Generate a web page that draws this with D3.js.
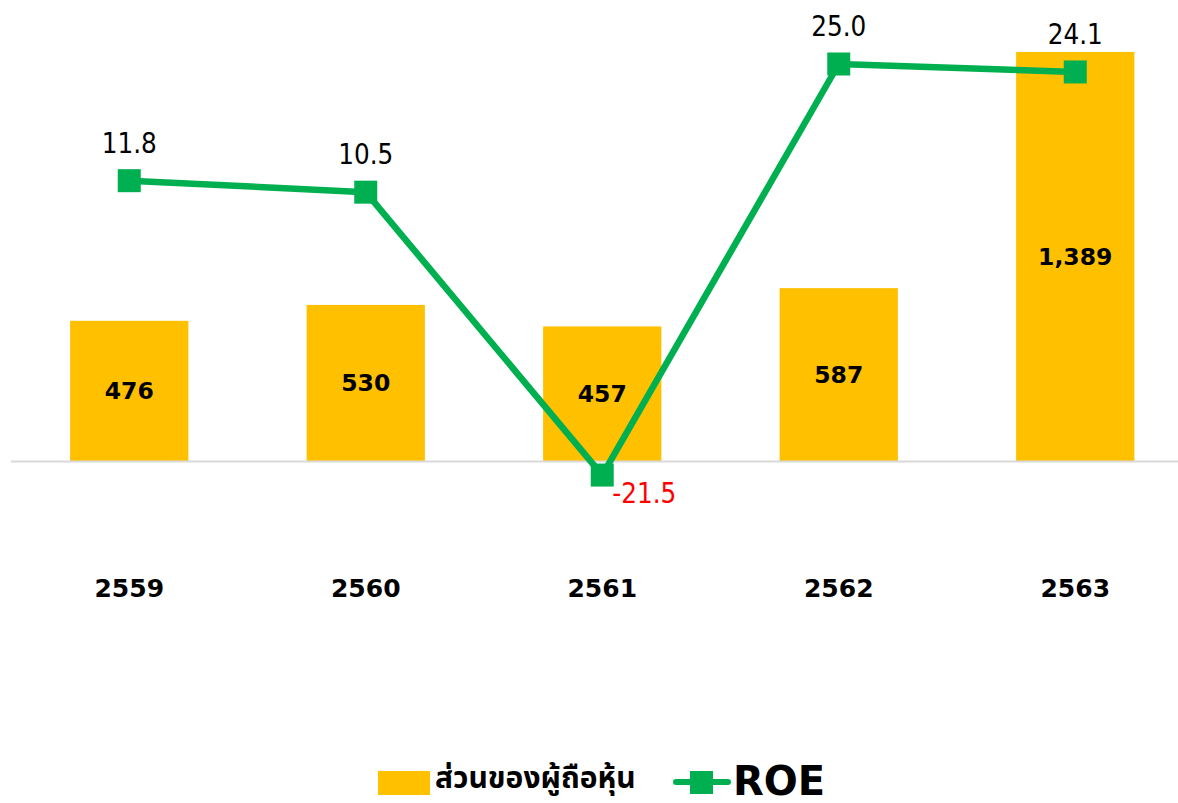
<!DOCTYPE html>
<html><head><meta charset="utf-8">
<script src="https://cdn.jsdelivr.net/npm/d3@7"></script>
<style>
body{margin:0;background:#fff;}
svg{display:block;}
</style></head>
<body>
<svg id="chart" width="1178" height="803"></svg>
<script>
const years = ["2559","2560","2561","2562","2563"];
const equity = [476, 530, 457, 587, 1389];
const roe = [11.8, 10.5, -21.5, 25.0, 24.1];
const equityLabels = ["476","530","457","587","1,389"];
const roeLabels = ["11.8","10.5","-21.5","25.0","24.1"];
const legendNames = ["ส่วนของผู้ถือหุ้น", "ROE"];

const svg = d3.select("#chart");
const x = d3.scaleBand().domain(years).range([11, 1193.5]).paddingInner(0.5).paddingOuter(0.25);
const yBar = d3.scaleLinear().domain([0, 1400]).range([461, 461 - 1400 * 0.2945]);
const yRoe = d3.scaleLinear().domain([-30, 30]).range([285 + 30 * 8.84, 285 - 30 * 8.84]);

const barColor = "#FFC000", lineColor = "#00B050";

// bars
svg.selectAll("rect.bar").data(equity).join("rect")
  .attr("x", (d, i) => x(years[i]))
  .attr("y", d => yBar(d))
  .attr("width", x.bandwidth())
  .attr("height", d => yBar(0) - yBar(d))
  .attr("fill", barColor);

// axis line
svg.append("line").attr("x1", 11).attr("x2", 1193).attr("y1", yBar(0) + 0.5).attr("y2", yBar(0) + 0.5)
  .attr("stroke", "#D9D9D9").attr("stroke-width", 2);

// bar labels
svg.selectAll("text.bl").data(equity).join("text")
  .attr("x", (d, i) => x(years[i]) + x.bandwidth() / 2)
  .attr("y", d => (yBar(d) + yBar(0)) / 2 + 8.5)
  .attr("text-anchor", "middle")
  .attr("font-family", "'DejaVu Sans', Verdana, sans-serif")
  .attr("font-weight", "bold").attr("font-size", 23.5).attr("fill", "#000")
  .text((d, i) => equityLabels[i]);

// category labels
svg.selectAll("text.cat").data(years).join("text")
  .attr("x", d => x(d) + x.bandwidth() / 2)
  .attr("y", 597)
  .attr("text-anchor", "middle")
  .attr("font-family", "'DejaVu Sans', Verdana, sans-serif")
  .attr("font-weight", "bold").attr("font-size", 25).attr("fill", "#000")
  .text(d => d);

// ROE line
const cx = i => x(years[i]) + x.bandwidth() / 2;
const line = d3.line().x((d, i) => cx(i)).y(d => yRoe(d));
svg.append("path").datum(roe).attr("d", line)
  .attr("fill", "none").attr("stroke", lineColor).attr("stroke-width", 6.5).attr("stroke-linejoin", "round");
svg.selectAll("rect.mk").data(roe).join("rect")
  .attr("x", (d, i) => cx(i) - 11.5).attr("y", d => yRoe(d) - 11.5)
  .attr("width", 23).attr("height", 23).attr("fill", lineColor);

// ROE labels
svg.selectAll("text.rl").data(roe).join("text")
  .attr("x", (d, i) => d < 0 ? cx(i) + 10 : cx(i))
  .attr("y", d => d < 0 ? yRoe(d) + 28 : yRoe(d) - 28)
  .attr("text-anchor", d => d < 0 ? "start" : "middle")
  .attr("font-family", "'DejaVu Sans Condensed', 'DejaVu Sans', sans-serif")
  .attr("font-stretch", "condensed")
  .attr("font-size", 27.5).attr("fill", d => d < 0 ? "#FF0000" : "#000")
  .text((d, i) => roeLabels[i]);

// legend
const lg = svg.append("g");
lg.append("rect").attr("x", 378).attr("y", 771).attr("width", 52).attr("height", 24).attr("fill", barColor);
lg.append("text").attr("x", 435).attr("y", 788)
  .attr("font-family", "'Noto Sans Thai', 'Noto Sans', 'DejaVu Sans', sans-serif")
  .attr("font-weight", "bold").attr("font-size", 30).attr("fill", "#000")
  .text(legendNames[0]);
lg.append("line").attr("x1", 676).attr("x2", 728).attr("y1", 782).attr("y2", 782)
  .attr("stroke", lineColor).attr("stroke-width", 6).attr("stroke-linecap", "round");
lg.append("rect").attr("x", 690).attr("y", 771).attr("width", 23).attr("height", 23).attr("fill", lineColor);
lg.append("text").attr("x", 733).attr("y", 795)
  .attr("font-family", "'DejaVu Sans', Verdana, sans-serif")
  .attr("font-weight", "bold").attr("font-size", 40).attr("fill", "#000")
  .text(legendNames[1]);
</script>
</body></html>
